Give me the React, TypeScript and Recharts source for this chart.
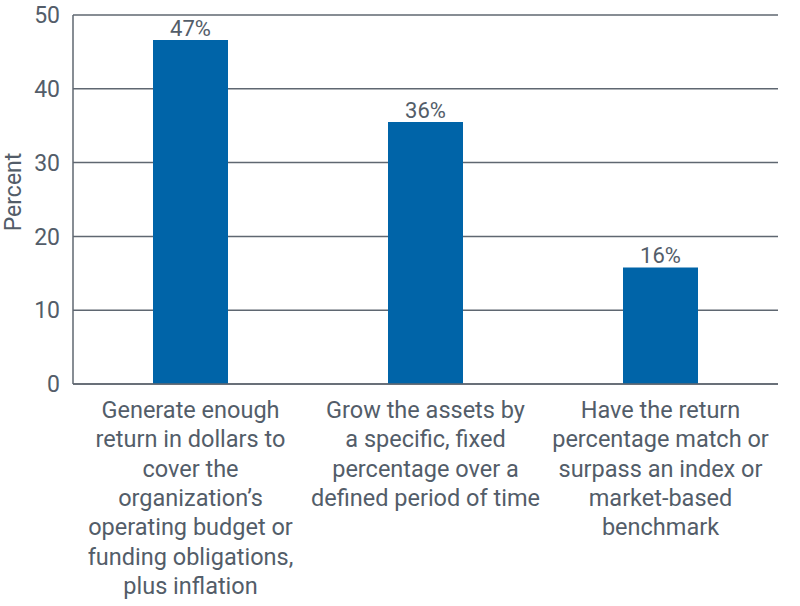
import { BarChart, Bar, XAxis, YAxis, CartesianGrid, LabelList } from "recharts";

const categories = ["Generate", "Grow", "Have"];
const values = [46.6, 35.5, 15.8];
const valueLabels = ["47%", "36%", "16%"];
const categoryLines = [
  [
    "Generate enough",
    "return in dollars to",
    "cover the",
    "organization’s",
    "operating budget or",
    "funding obligations,",
    "plus inflation",
  ],
  [
    "Grow the assets by",
    "a specific, fixed",
    "percentage over a",
    "defined period of time",
  ],
  [
    "Have the return",
    "percentage match or",
    "surpass an index or",
    "market-based",
    "benchmark",
  ],
];
const yTicks = [0, 10, 20, 30, 40, 50];

const data = categories.map((c, i) => ({ name: c, value: values[i], label: valueLabels[i] }));

const textColor = "#535d69";
const gridColor = "#5f6771";
const barColor = "#0064a8";
const font = "Roboto, 'DejaVu Sans', sans-serif";

const CategoryTick = (props: any) => {
  const { x, y, payload } = props;
  const lines = categoryLines[payload.index] || [];
  return (
    <text x={x} y={y} textAnchor="middle" fill={textColor} fontSize={23.5} fontFamily={font}>
      {lines.map((l, i) => (
        <tspan key={i} x={x} dy={i === 0 ? 26 : 29.3}>
          {l}
        </tspan>
      ))}
    </text>
  );
};

// rotated axis title, drawn by hand so it is not clipped at the left edge
const PercentLabel = () => {
  const cx = 13;
  const cy = 192;
  return (
    <text
      x={cx}
      y={cy}
      transform={`rotate(-90, ${cx}, ${cy})`}
      textAnchor="middle"
      dominantBaseline="central"
      fill={textColor}
      fontSize={23}
      fontFamily={font}
    >
      Percent
    </text>
  );
};

export default function App() {
  return (
    <div style={{ position: "absolute", left: 0, top: 0 }}>
      <BarChart
        width={800}
        height={606}
        data={data}
        margin={{ top: 15, right: 22, left: 0, bottom: 0 }}
        barCategoryGap={80}
      >
        <CartesianGrid vertical={false} stroke={gridColor} strokeWidth={1.5} />
        <XAxis
          dataKey="name"
          tick={<CategoryTick />}
          tickLine={false}
          axisLine={{ stroke: gridColor, strokeWidth: 1.5 }}
          height={222}
          interval={0}
        />
        <YAxis
          domain={[0, 50]}
          ticks={yTicks}
          width={73}
          tickLine={false}
          tickSize={0}
          tickMargin={13}
          axisLine={{ stroke: gridColor, strokeWidth: 1.5 }}
          tick={{ fill: textColor, fontSize: 23, fontFamily: font }}
          label={<PercentLabel />}
        />
        <YAxis
          yAxisId="right"
          orientation="right"
          width={0}
          tick={false}
          tickLine={false}
          axisLine={{ stroke: gridColor, strokeWidth: 1.5 }}
        />
        <Bar dataKey="value" fill={barColor} isAnimationActive={false}>
          <LabelList
            dataKey="label"
            position="top"
            offset={4}
            style={{ fill: textColor, fontSize: 22, fontFamily: font }}
          />
        </Bar>
      </BarChart>
    </div>
  );
}
